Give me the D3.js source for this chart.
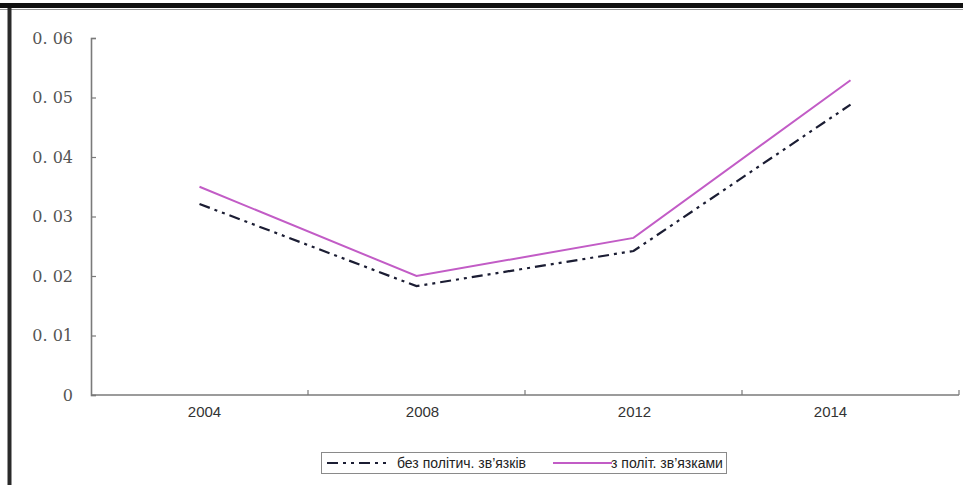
<!DOCTYPE html>
<html>
<head>
<meta charset="utf-8">
<script src="https://cdn.jsdelivr.net/npm/d3@7"></script>
<style>
  html, body { margin: 0; padding: 0; background: #fff; }
  svg { display: block; }
</style>
</head>
<body>
<svg id="chart" width="963" height="485"></svg>
<script>
// Election years on the category axis
const years = ["2004", "2008", "2012", "2014"];
// Share for firms without political connections
const withoutTies = [0.0321, 0.0183, 0.0242, 0.0488];
// Share for firms with political connections
const withTies = [0.0350, 0.0200, 0.0264, 0.0529];
// Value-axis tick labels
const yTicks = [0, 0.01, 0.02, 0.03, 0.04, 0.05, 0.06];
// Legend entries
const seriesNames = ["без політич. зв’язків", "з політ. зв’язками"];

const svg = d3.select("#chart");
const W = 963, H = 485;
const m = { left: 91, right: 4, top: 38, bottom: 90 };

// page frame (document border)
svg.append("rect").attr("x", 0).attr("y", 3).attr("width", W).attr("height", 5).attr("fill", "#111");
svg.append("line").attr("x1", 0).attr("x2", W).attr("y1", 9.5).attr("y2", 9.5).attr("stroke", "#999").attr("stroke-width", 1);
svg.append("rect").attr("x", 7.5).attr("y", 8).attr("width", 4).attr("height", H - 8).attr("fill", "#2a2a2a");

const x = d3.scaleBand().domain(years).range([m.left, W - m.right]).padding(0);
const y = d3.scaleLinear().domain([0, 0.06]).range([H - m.bottom, m.top]);

const axisColor = "#7a7a7a";

// value axis
const yAxis = svg.append("g")
  .attr("transform", `translate(${m.left},0)`)
  .call(d3.axisRight(y).tickValues(yTicks).tickSize(5).tickFormat(""));
yAxis.select(".domain").attr("stroke", axisColor).attr("stroke-width", 1.6);
yAxis.selectAll(".tick line").attr("stroke", axisColor).attr("stroke-width", 1.2);

svg.append("g").selectAll("text").data(yTicks).join("text")
  .attr("x", 73)
  .attr("y", d => y(d))
  .attr("dy", "0.36em")
  .attr("text-anchor", "end")
  .attr("font-family", "'DejaVu Serif', serif")
  .attr("font-size", 16)
  .attr("fill", "#555")
  .text(d => d === 0 ? "0" : d3.format(".2f")(d).replace(".", ". "));

// category axis: ticks at band boundaries, pointing up
const bounds = years.map(d => x(d)).concat([x(years[years.length - 1]) + x.bandwidth()]);
const xAxisG = svg.append("g");
xAxisG.append("line")
  .attr("x1", m.left).attr("x2", W - m.right)
  .attr("y1", y(0)).attr("y2", y(0))
  .attr("stroke", axisColor).attr("stroke-width", 1.6);
xAxisG.selectAll("line.tk").data(bounds.slice(1)).join("line")
  .attr("class", "tk")
  .attr("x1", d => d).attr("x2", d => d)
  .attr("y1", y(0)).attr("y2", y(0) - 5)
  .attr("stroke", axisColor).attr("stroke-width", 1.2);

// category labels, with small per-label nudges
const labelNudge = [5, 6, 1, -20];
xAxisG.selectAll("text").data(years).join("text")
  .attr("x", (d, i) => x(d) + x.bandwidth() / 2 + labelNudge[i])
  .attr("y", y(0) + 22)
  .attr("text-anchor", "middle")
  .attr("font-family", "'Liberation Sans', Arial, sans-serif")
  .attr("font-size", 15)
  .attr("fill", "#333")
  .text(d => d);

const line = d3.line()
  .x((d, i) => x(years[i]) + x.bandwidth() / 2)
  .y(d => y(d));

const pinkColor = "#c25cc6";
const darkColor = "#1b1d33";
const dashDotDot = "11,5,3,5,3,5";

svg.append("path").datum(withTies)
  .attr("d", line)
  .attr("fill", "none")
  .attr("stroke", pinkColor)
  .attr("stroke-width", 2);

svg.append("path").datum(withoutTies)
  .attr("d", line)
  .attr("fill", "none")
  .attr("stroke", darkColor)
  .attr("stroke-width", 2.2)
  .attr("stroke-dasharray", dashDotDot);

// legend
const lg = svg.append("g");
lg.append("rect")
  .attr("x", 321.5).attr("y", 452.5).attr("width", 405).attr("height", 21)
  .attr("fill", "#fff").attr("stroke", "#8a8a8a").attr("stroke-width", 1);
lg.append("line")
  .attr("x1", 327).attr("x2", 391).attr("y1", 463).attr("y2", 463)
  .attr("stroke", darkColor).attr("stroke-width", 2.2).attr("stroke-dasharray", dashDotDot);
lg.append("text")
  .attr("x", 397).attr("y", 468)
  .attr("font-family", "'Liberation Sans', Arial, sans-serif")
  .attr("font-size", 14).attr("fill", "#222")
  .text(seriesNames[0]);
lg.append("line")
  .attr("x1", 553).attr("x2", 612).attr("y1", 463).attr("y2", 463)
  .attr("stroke", pinkColor).attr("stroke-width", 2);
lg.append("text")
  .attr("x", 611).attr("y", 468)
  .attr("font-family", "'Liberation Sans', Arial, sans-serif")
  .attr("font-size", 14).attr("fill", "#222")
  .text(seriesNames[1]);
</script>
</body>
</html>
